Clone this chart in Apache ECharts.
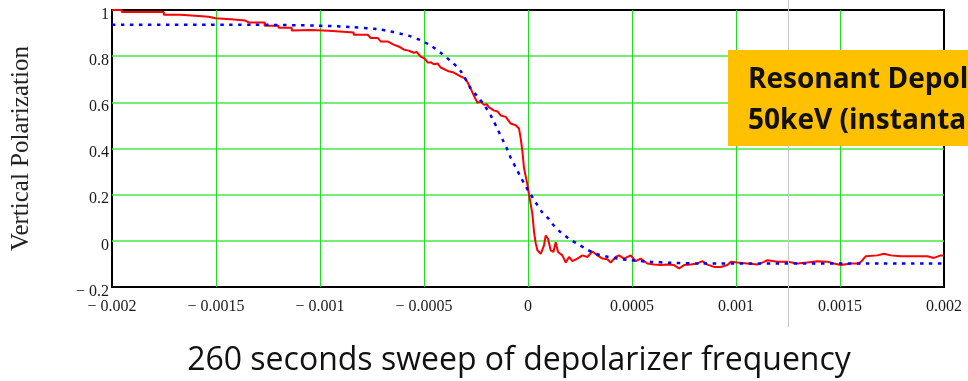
<!DOCTYPE html>
<html>
<head>
<meta charset="utf-8">
<script src="https://cdn.jsdelivr.net/npm/echarts@6/dist/echarts.min.js"></script>
<style>
html,body{margin:0;padding:0;background:#fff;}
#chart{width:968px;height:381px;}
</style>
</head>
<body>
<div id="chart"></div>
<script>
// ---- data ----
const xMin = -0.002, xMax = 0.002, xStep = 0.0005;
const yMin = -0.2, yMax = 1, yStep = 0.2;
const xTickLabels = ['− 0.002','− 0.0015','− 0.001','− 0.0005','0','0.0005','0.001','0.0015','0.002'];
const yTickLabels = ['− 0.2','0','0.2','0.4','0.6','0.8','1'];
const yAxisTitle = 'Vertical Polarization';
const caption = '260 seconds sweep of depolarizer frequency';
const boxLines = ['Resonant Depolarizer', '50keV (instantaneous)'];

// measured polarization (red)
const measuredX = [-0.002,-0.001953,-0.001953,-0.001751,-0.001751,-0.001670,-0.001670,-0.001535,-0.001503,-0.001429,-0.001359,-0.001343,-0.001266,-0.001266,-0.001199,-0.001199,-0.001136,-0.001136,-0.001045,-0.000958,-0.000949,-0.000838,-0.000838,-0.000771,-0.000756,-0.000723,-0.000708,-0.000675,-0.000646,-0.000622,-0.000598,-0.000574,-0.000550,-0.000535,-0.000516,-0.000497,-0.000482,-0.000468,-0.000453,-0.000434,-0.000420,-0.000386,-0.000357,-0.000324,-0.000304,-0.000290,-0.000275,-0.000261,-0.000243,-0.000227,-0.000212,-0.000199,-0.000189,-0.000165,-0.000146,-0.000131,-0.000107,-0.0000832,-0.0000591,-0.0000433,-0.0000351,-0.0000269,-0.0000192,-0.0000029,0.0000048,0.0000130,0.0000212,0.0000288,0.0000370,0.0000452,0.0000611,0.0000769,0.0000851,0.0000962,0.0001091,0.0001221,0.0001332,0.0001442,0.0001654,0.0001813,0.0001971,0.0002135,0.0002375,0.0002615,0.0002856,0.0003096,0.0003337,0.0003577,0.0003817,0.0003976,0.0004216,0.0004375,0.0004615,0.0004938,0.0005178,0.0005418,0.0005740,0.0006058,0.0006380,0.0006702,0.0007019,0.0007260,0.0007500,0.0007822,0.0008144,0.0008385,0.0008625,0.0008942,0.0009265,0.0009587,0.0009745,0.0010067,0.0010548,0.0011029,0.0011346,0.0011510,0.0011990,0.0012471,0.0012952,0.0013433,0.0013913,0.0014394,0.0014712,0.0015034,0.0015515,0.0015914,0.0016077,0.0016236,0.0016798,0.0017115,0.0017438,0.0017918,0.0018721,0.0019202,0.0019519,0.0019841,0.002];
const measuredY = [1.000,1.000,0.991,0.991,0.979,0.979,0.971,0.971,0.964,0.960,0.954,0.946,0.946,0.932,0.932,0.923,0.923,0.911,0.913,0.910,0.902,0.902,0.893,0.893,0.879,0.879,0.864,0.864,0.850,0.842,0.829,0.824,0.815,0.818,0.798,0.790,0.772,0.774,0.765,0.768,0.751,0.736,0.729,0.712,0.705,0.686,0.658,0.630,0.598,0.603,0.589,0.592,0.579,0.565,0.560,0.543,0.537,0.508,0.501,0.487,0.444,0.387,0.315,0.244,0.201,0.158,0.116,0.040,-0.010,-0.041,-0.056,-0.020,0.023,0.009,-0.041,-0.048,-0.006,-0.048,-0.063,-0.094,-0.070,-0.088,-0.077,-0.063,-0.070,-0.046,-0.063,-0.077,-0.080,-0.094,-0.070,-0.063,-0.077,-0.063,-0.088,-0.077,-0.098,-0.103,-0.105,-0.103,-0.105,-0.120,-0.105,-0.103,-0.098,-0.088,-0.103,-0.113,-0.113,-0.105,-0.091,-0.094,-0.098,-0.103,-0.091,-0.084,-0.091,-0.091,-0.098,-0.094,-0.088,-0.091,-0.098,-0.105,-0.098,-0.098,-0.084,-0.067,-0.063,-0.056,-0.063,-0.067,-0.067,-0.067,-0.074,-0.063,-0.065];

// model curve (blue dotted)
const modelX = [-0.002,-0.001333,-0.000997,-0.000852,-0.000724,-0.000660,-0.000612,-0.000564,-0.000516,-0.000468,-0.000420,-0.000372,-0.000324,-0.000275,-0.000243,-0.000212,-0.000171,-0.000147,-0.000123,-0.0000990,-0.0000832,-0.0000591,-0.0000351,-0.0000111,0.0000130,0.0000370,0.0000692,0.0001010,0.0001173,0.0001572,0.0001971,0.0002375,0.0002774,0.0003255,0.0003736,0.0004298,0.0004938,0.0005899,0.0006861,0.0008303,0.002];
const modelY = [0.936,0.936,0.932,0.926,0.917,0.907,0.897,0.886,0.869,0.846,0.815,0.779,0.736,0.660,0.625,0.590,0.530,0.485,0.440,0.395,0.360,0.318,0.276,0.236,0.201,0.166,0.123,0.094,0.073,0.037,0.009,-0.013,-0.034,-0.056,-0.067,-0.077,-0.084,-0.091,-0.095,-0.098,-0.098];

const measured = measuredX.map((x, i) => [x, measuredY[i]]);
const model = modelX.map((x, i) => [x, modelY[i]]);

const chart = echarts.init(document.getElementById('chart'), null, {renderer: 'canvas'});
const serif = "'Liberation Serif','Times New Roman',serif";
const option = {
  animation: false,
  backgroundColor: '#ffffff',
  grid: {left: 112, right: 24, top: 10, bottom: 94, containLabel: false, outerBoundsMode: 'none',
         show: true, borderColor: '#000', borderWidth: 2, backgroundColor: 'transparent'},
  xAxis: {
    type: 'value', min: xMin, max: xMax, interval: xStep,
    axisLine: {show: false}, axisTick: {show: false},
    axisLabel: {
      color: '#1a1a1a', fontFamily: serif, fontSize: 16, margin: 12,
      formatter: v => xTickLabels[Math.round((v - xMin) / xStep)]
    },
    splitLine: {show: true, showMinLine: false, showMaxLine: false, lineStyle: {color: '#22dd22', width: 1}}
  },
  yAxis: {
    type: 'value', min: yMin, max: yMax, interval: yStep,
    name: yAxisTitle, nameLocation: 'middle', nameRotate: 90, nameGap: 78,
    nameTextStyle: {fontFamily: serif, fontSize: 25, color: '#222'},
    axisLine: {show: false}, axisTick: {show: false},
    axisLabel: {
      color: '#1a1a1a', fontFamily: serif, fontSize: 16, margin: 3,
      verticalAlign: 'top', lineHeight: 9,
      formatter: v => yTickLabels[Math.round((v - yMin) / yStep)]
    },
    splitLine: {show: true, showMinLine: false, showMaxLine: false, lineStyle: {color: '#44e844', width: 1.5}}
  },
  series: [
    {
      type: 'line', data: measured, showSymbol: false, symbol: 'none',
      lineStyle: {color: '#ff0000', width: 2}, z: 3
    },
    {
      type: 'line', data: model, showSymbol: false, symbol: 'none', smooth: 0.3,
      lineStyle: {color: '#0000ff', width: 2.5, type: [3.5, 5.5], cap: 'butt'}, z: 4
    }
  ],
  graphic: [
    {type: 'line', z: 50, shape: {x1: 788.5, y1: 0, x2: 788.5, y2: 327}, style: {stroke: '#c8c8c8', lineWidth: 1}},
    {type: 'rect', z: 60, shape: {x: 728, y: 50, width: 260, height: 96}, style: {fill: '#FFC000'}},
    {type: 'text', z: 61, x: 748, y: 80, style: {text: boxLines[0], fill: '#111', font: "bold 28px 'Open Sans', sans-serif", textVerticalAlign: 'middle'}},
    {type: 'text', z: 61, x: 748, y: 121, style: {text: boxLines[1], fill: '#111', font: "bold 28px 'Open Sans', sans-serif", textVerticalAlign: 'middle'}},
    {type: 'text', z: 61, x: 519, y: 361, style: {text: caption, fill: '#111', font: "32px 'Open Sans', sans-serif", textAlign: 'center', textVerticalAlign: 'middle'}}
  ]
};
chart.setOption(option);
</script>
</body>
</html>
